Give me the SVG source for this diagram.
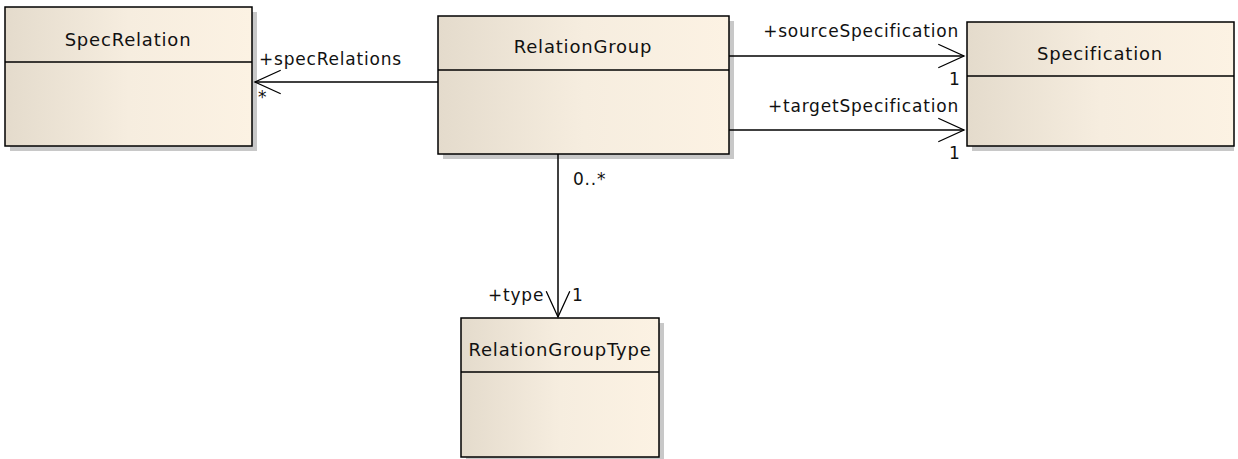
<svg xmlns="http://www.w3.org/2000/svg" width="1238" height="459" viewBox="0 0 1238 459">
<defs>
<linearGradient id="fill" x1="0" y1="0" x2="1" y2="0">
<stop offset="0" stop-color="#E4DBCC"/>
<stop offset="0.5" stop-color="#F6EDDF"/>
<stop offset="1" stop-color="#FCF2E3"/>
</linearGradient>
<marker id="open" markerUnits="userSpaceOnUse" markerWidth="30" markerHeight="30" viewBox="-26 -13 28 26" refX="0" refY="0" orient="auto">
<path d="M -24 -11 L 0 0 L -24 11" fill="none" stroke="#000" stroke-width="1.2"/>
</marker>
</defs>
<style>
.shadow{fill:#C8C8C8}
.box{fill:url(#fill);stroke:#000;stroke-width:1.5}
.sep{stroke:#000;stroke-width:1.5}
.name{font-family:"DejaVu Sans",sans-serif;font-size:18px;letter-spacing:0.8px;fill:#111;text-anchor:middle}
.lbl{font-family:"DejaVu Sans",sans-serif;font-size:17px;letter-spacing:0.8px;fill:#111}
.conn{stroke:#000;stroke-width:1.5;fill:none;marker-end:url(#open)}
</style>
<rect width="1238" height="459" fill="#FFFFFF"/>
<g id="SpecRelation">
<rect class="shadow" x="10" y="12" width="247" height="139"/>
<rect class="box" x="5" y="7" width="247" height="139"/>
<line class="sep" x1="5" y1="62" x2="252" y2="62"/>
<text class="name" x="128" y="46">SpecRelation</text>
</g>
<g id="RelationGroup">
<rect class="shadow" x="443" y="21" width="291" height="138"/>
<rect class="box" x="438" y="16" width="291" height="138"/>
<line class="sep" x1="438" y1="70" x2="729" y2="70"/>
<text class="name" x="583" y="53">RelationGroup</text>
</g>
<g id="Specification">
<rect class="shadow" x="972" y="27" width="262" height="124"/>
<rect class="box" x="967" y="22" width="267" height="124"/>
<line class="sep" x1="967" y1="76" x2="1234" y2="76"/>
<text class="name" x="1100" y="60">Specification</text>
</g>
<g id="RelationGroupType">
<rect class="shadow" x="466" y="323" width="198" height="136"/>
<rect class="box" x="461" y="318" width="198" height="139"/>
<line class="sep" x1="461" y1="372" x2="659" y2="372"/>
<text class="name" x="560" y="356">RelationGroupType</text>
</g>
<g id="connectors">
<line class="conn" x1="438" y1="82" x2="255" y2="82"/>
<text class="lbl" x="259" y="65">+specRelations</text>
<text class="lbl" x="258" y="103">*</text>
<line class="conn" x1="729" y1="56" x2="964" y2="56"/>
<text class="lbl" x="959" y="37" text-anchor="end">+sourceSpecification</text>
<text class="lbl" x="949" y="85">1</text>
<line class="conn" x1="729" y1="130" x2="964" y2="130"/>
<text class="lbl" x="959" y="112" text-anchor="end">+targetSpecification</text>
<text class="lbl" x="949" y="159">1</text>
<line class="conn" x1="558" y1="154" x2="558" y2="317"/>
<text class="lbl" x="573" y="185">0..*</text>
<text class="lbl" x="488" y="301">+type</text>
<text class="lbl" x="572" y="301">1</text>
</g>
</svg>
